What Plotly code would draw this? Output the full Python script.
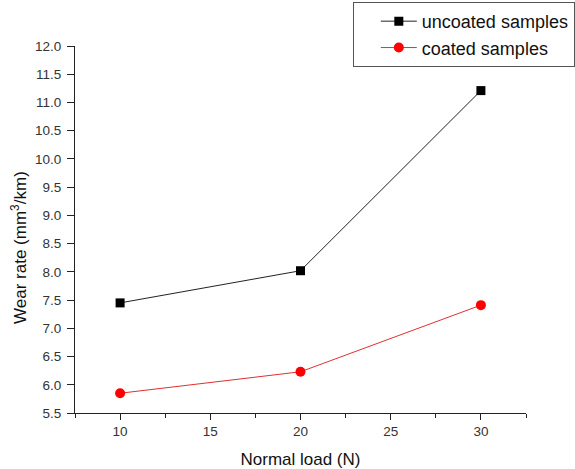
import plotly.graph_objects as go

loads = [10, 20, 30]
uncoated = [7.45, 8.02, 11.21]
coated = [5.85, 6.23, 7.41]
y_ticks = [5.5, 6.0, 6.5, 7.0, 7.5, 8.0, 8.5, 9.0, 9.5, 10.0, 10.5, 11.0, 11.5, 12.0]
x_ticks = [10, 15, 20, 25, 30]

fig = go.Figure()
fig.add_trace(go.Scatter(
    x=loads, y=uncoated, name="uncoated samples", mode="lines+markers",
    line=dict(color="#222222", width=1),
    marker=dict(symbol="square", size=9, color="black"),
))
fig.add_trace(go.Scatter(
    x=loads, y=coated, name="coated samples", mode="lines+markers",
    line=dict(color="#e03030", width=1),
    marker=dict(symbol="circle", size=10, color="#ff0000"),
))

axis_font = dict(family="Liberation Sans, Arial, sans-serif", size=13.5, color="#333333")
fig.update_layout(
    width=575, height=469,
    margin=dict(l=75, r=49, t=46, b=56, autoexpand=False),
    paper_bgcolor="white", plot_bgcolor="white",
    font=dict(family="Liberation Sans, Arial, sans-serif", color="#111111"),
    showlegend=True,
    legend=dict(
        x=0.616, y=1.12, xanchor="left", yanchor="top",
        bordercolor="#555555", borderwidth=1, bgcolor="white",
        font=dict(size=18, color="#111111"),
        indentation=22, itemwidth=36, tracegroupgap=0,
    ),
    xaxis=dict(
        range=[7.5, 32.5], tickvals=x_ticks, ticks="outside", ticklen=6,
        tickcolor="#222222", showline=True, linecolor="#222222", linewidth=1,
        showgrid=False, zeroline=False, tickfont=axis_font, automargin=False,
        minor=dict(dtick=2.5, tick0=7.5, ticks="outside", ticklen=4, tickcolor="#222222", showgrid=False),
        title=dict(text="Normal load (N)", font=dict(size=17, color="#111111"), standoff=14),
    ),
    yaxis=dict(
        range=[5.5, 12.0], tickvals=y_ticks, tickformat=".1f", ticks="outside", ticklen=7,
        tickcolor="#222222", showline=True, linecolor="#222222", linewidth=1,
        showgrid=False, zeroline=False, tickfont=axis_font, automargin=False,
        ticklabelstandoff=3,
    ),
    annotations=[dict(
        text="Wear rate (mm<sup>3</sup>/km)", textangle=-90,
        xref="paper", yref="paper", x=-0.124, y=0.45,
        xanchor="center", yanchor="middle", showarrow=False,
        font=dict(size=17, color="#111111"),
    )],
)

fig.write_html("out.html")
